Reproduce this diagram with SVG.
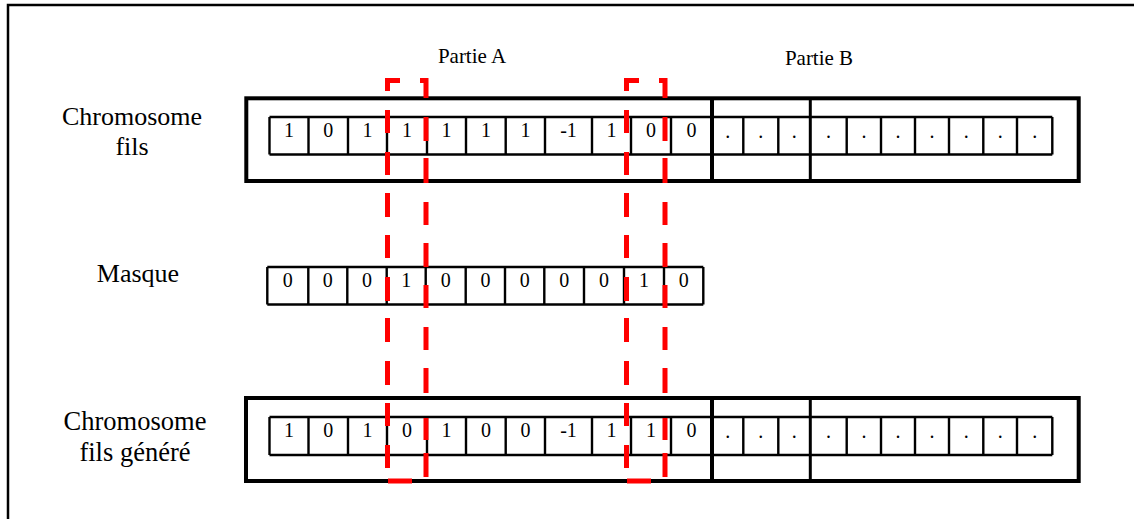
<svg xmlns="http://www.w3.org/2000/svg" width="1134" height="519" viewBox="0 0 1134 519">
<defs>
<style>
.frame{fill:none;stroke:#000;stroke-width:2.5}
.box{fill:none;stroke:#000;stroke-width:4}
.part{stroke:#000;stroke-width:4}
.part2{stroke:#000;stroke-width:3}
.cells{fill:none;stroke:#000;stroke-width:2.4}
.lbl{font-family:"Liberation Serif","Times New Roman",serif;font-size:26px;fill:#000;text-anchor:middle}
.lbl2{font-family:"Liberation Serif","Times New Roman",serif;font-size:26.5px;fill:#000;text-anchor:middle}
.plbl{font-family:"Liberation Serif","Times New Roman",serif;font-size:21px;fill:#000;text-anchor:middle}
.d{font-family:"Liberation Serif","Times New Roman",serif;font-size:20px;fill:#000;text-anchor:middle}
.red{fill:none;stroke:#ff0000;stroke-width:5;stroke-linecap:butt;stroke-linejoin:miter}
</style>
<path id="redrect" class="red" d="M400,80.5 H387.5 V91 M387.5,110 V133 M387.5,152 V175 M387.5,193 V217 M387.5,235 V258 M387.5,277 V301 M387.5,318 V342 M387.5,361 V385 M387.5,403 V426 M387.5,445 V468 M388,481 H412 M420,80.5 H426 V98 M426,117 V141 M426,158 V183 M426,202 V225 M426,243 V267 M426,285 V308 M426,327 V350 M426,368 V393 M426,418 V440 M426,453 V477"/>
</defs>
<rect x="0" y="0" width="1134" height="519" fill="#fff"/>
<rect class="frame" x="8" y="5" width="1140" height="530"/>

<g id="label-partie-a"><text class="plbl" x="472" y="63">Partie A</text></g>
<g id="label-partie-b"><text class="plbl" x="819" y="65">Partie B</text></g>

<g id="label-chromosome-fils">
<text class="lbl" x="132" y="125">Chromosome</text>
<text class="lbl" x="132" y="155">fils</text>
</g>
<g id="label-masque"><text class="lbl" x="138" y="282">Masque</text></g>
<g id="label-chromosome-genere">
<text class="lbl2" x="135" y="430">Chromosome</text>
<text class="lbl2" x="135" y="461">fils généré</text>
</g>

<g id="chromosome-fils">
<rect class="box" x="246.3" y="98.3" width="832.4" height="82.7"/>
<line class="part" x1="712" y1="98.3" x2="712" y2="181"/>
<line class="part2" x1="810.3" y1="98.3" x2="810.3" y2="181"/>
<path class="cells" d="M269.5,117 H1052.3 M269.5,154.5 H1052.3 M269.5,117 V154.5 M308.5,117 V154.5 M348,117 V154.5 M387,117 V154.5 M427,117 V154.5 M466,117 V154.5 M505.7,117 V154.5 M545,117 V154.5 M592,117 V154.5 M631,117 V154.5 M671,117 V154.5 M743.3,117 V154.5 M778.3,117 V154.5 M846.7,117 V154.5 M881,117 V154.5 M915,117 V154.5 M949,117 V154.5 M983.3,117 V154.5 M1017,117 V154.5 M1052.3,117 V154.5"/>
<g class="d">
<text x="289" y="137">1</text><text x="328.3" y="137">0</text><text x="367.5" y="137">1</text><text x="407" y="137">1</text><text x="446.5" y="137">1</text><text x="485.9" y="137">1</text><text x="525.4" y="137">1</text><text x="568.5" y="137">-1</text><text x="611.5" y="137">1</text><text x="651" y="137">0</text><text x="691.5" y="137">0</text>
<text x="727.7" y="138">.</text><text x="760.8" y="138">.</text><text x="794.2" y="138">.</text><text x="828.4" y="138">.</text><text x="863.9" y="138">.</text><text x="898" y="138">.</text><text x="932" y="138">.</text><text x="966.2" y="138">.</text><text x="1000.2" y="138">.</text><text x="1034.7" y="138">.</text>
</g>
</g>

<g id="masque">
<path class="cells" d="M267.3,267 H703.3 M267.3,304.5 H703.3 M267.3,267 V304.5 M308.3,267 V304.5 M347.3,267 V304.5 M386.7,267 V304.5 M425.7,267 V304.5 M465.7,267 V304.5 M505,267 V304.5 M544.3,267 V304.5 M584,267 V304.5 M624,267 V304.5 M664,267 V304.5 M703.3,267 V304.5"/>
<g class="d">
<text x="287.8" y="287">0</text><text x="327.8" y="287">0</text><text x="367" y="287">0</text><text x="406.2" y="287">1</text><text x="445.7" y="287">0</text><text x="485.4" y="287">0</text><text x="524.7" y="287">0</text><text x="564.2" y="287">0</text><text x="604" y="287">0</text><text x="644" y="287">1</text><text x="683.7" y="287">0</text>
</g>
</g>

<g id="chromosome-genere">
<rect class="box" x="246" y="398" width="832.7" height="83"/>
<line class="part" x1="712" y1="398" x2="712" y2="481"/>
<line class="part2" x1="810.3" y1="398" x2="810.3" y2="481"/>
<path class="cells" d="M269.5,417 H1052.3 M269.5,455 H1052.3 M269.5,417 V455 M308.5,417 V455 M348,417 V455 M387,417 V455 M427,417 V455 M466,417 V455 M505.7,417 V455 M545,417 V455 M592,417 V455 M631,417 V455 M671,417 V455 M743.3,417 V455 M778.3,417 V455 M846.7,417 V455 M881,417 V455 M915,417 V455 M949,417 V455 M983.3,417 V455 M1017,417 V455 M1052.3,417 V455"/>
<g class="d">
<text x="289" y="437">1</text><text x="328.3" y="437">0</text><text x="367.5" y="437">1</text><text x="407" y="437">0</text><text x="446.5" y="437">1</text><text x="485.9" y="437">0</text><text x="525.4" y="437">0</text><text x="568.5" y="437">-1</text><text x="611.5" y="437">1</text><text x="651" y="437">1</text><text x="691.5" y="437">0</text>
<text x="727.7" y="438">.</text><text x="760.8" y="438">.</text><text x="794.2" y="438">.</text><text x="828.4" y="438">.</text><text x="863.9" y="438">.</text><text x="898" y="438">.</text><text x="932" y="438">.</text><text x="966.2" y="438">.</text><text x="1000.2" y="438">.</text><text x="1034.7" y="438">.</text>
</g>
</g>

<g id="connectors"></g>

<g id="selection-1"><use href="#redrect"/></g>
<g id="selection-2"><use href="#redrect" transform="translate(239,0)"/></g>
</svg>
